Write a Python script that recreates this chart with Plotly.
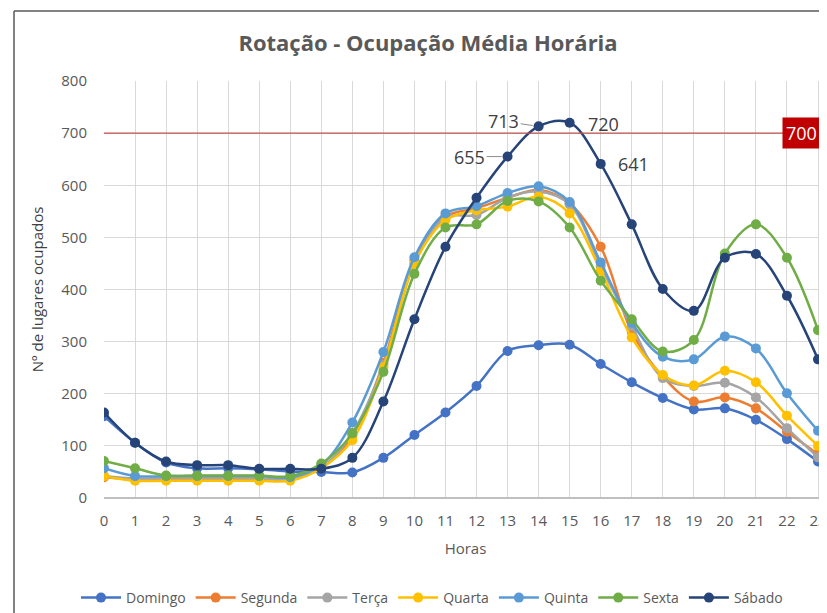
import plotly.graph_objects as go

hours = list(range(24))
series_names = ["Domingo", "Segunda", "Terça", "Quarta", "Quinta", "Sexta", "Sábado"]
domingo = [157, 106, 68, 57, 57, 55, 51, 50, 49, 77, 121, 164, 215, 282, 293, 294, 257, 222, 192, 170, 172, 150, 113, 70]
segunda = [40, 36, 37, 37, 37, 37, 36, 58, 120, 259, 456, 540, 556, 576, 591, 565, 482, 319, 233, 185, 193, 172, 127, 84]
terca = [42, 37, 38, 38, 38, 38, 37, 58, 125, 255, 450, 538, 543, 576, 588, 563, 445, 330, 230, 215, 221, 193, 134, 78]
quarta = [42, 33, 33, 33, 33, 33, 33, 57, 111, 251, 450, 533, 552, 559, 578, 546, 436, 308, 236, 216, 244, 222, 158, 100]
quinta = [57, 42, 42, 42, 42, 42, 40, 63, 145, 280, 462, 546, 560, 585, 598, 568, 452, 336, 271, 266, 310, 287, 201, 129]
sexta = [71, 57, 43, 43, 43, 43, 42, 66, 124, 242, 430, 519, 525, 570, 569, 519, 417, 343, 281, 303, 469, 525, 461, 322]
sabado = [164, 106, 70, 63, 63, 56, 56, 56, 77, 185, 343, 482, 576, 655, 713, 720, 641, 525, 401, 359, 461, 468, 388, 266]
capacity = 700
labelled_hours = [13, 14, 15, 16]

colors = ["#4472C4", "#ED7D31", "#A5A5A5", "#FFC000", "#5B9BD5", "#70AD47", "#264478"]
data = [domingo, segunda, terca, quarta, quinta, sexta, sabado]

FONT = "Open Sans"
fig = go.Figure()
for name, vals, c in zip(series_names, data, colors):
    fig.add_trace(go.Scatter(
        x=hours, y=vals, name=name, mode="lines+markers",
        line=dict(color=c, width=2.5, shape="spline", smoothing=1.0),
        marker=dict(color=c, size=10),
    ))

# page offset (body margin) of 8 px
OFF = 8
L = 104; W = 723; B = 498; H = 417   # plot area in screenshot pixels

# capacity line
fig.add_shape(type="line", xref="paper", yref="y", x0=0, x1=1, y0=capacity, y1=capacity,
              line=dict(color="#C0504D", width=1.2))
fig.add_annotation(xref="paper", yref="y", x=(782 - L) / W, y=capacity, xanchor="left",
                   text="700  ", showarrow=False, bgcolor="#C00000",
                   font=dict(family=FONT, size=18, color="white"), borderpad=3)

# data labels on Sábado
offsets = {13: (-38, 0, True), 14: (-35, -5, True), 15: (34, 1, False), 16: (33, 0, False)}
for h in labelled_hours:
    ax, ay, arrow = offsets[h]
    if arrow:
        fig.add_annotation(x=h, y=sabado[h], text=str(sabado[h]), showarrow=True,
                           ax=ax, ay=ay, arrowhead=0, arrowwidth=1, arrowcolor="#8c8c8c",
                           standoff=6, font=dict(family=FONT, size=18, color="#404040"))
    else:
        fig.add_annotation(x=h, y=sabado[h], text=str(sabado[h]), showarrow=False,
                           xshift=ax, yshift=-ay, font=dict(family=FONT, size=18, color="#404040"))

# outer frame (left and top edges)
fx = (14 - L) / W
fy = (B - 11) / H
fig.add_shape(type="line", xref="paper", yref="paper", x0=fx, x1=fx, y0=fy, y1=-0.3,
              line=dict(color="#595959", width=1.5))
fig.add_shape(type="line", xref="paper", yref="paper", x0=fx, x1=1.05, y0=fy, y1=fy,
              line=dict(color="#595959", width=1.5))

fig_w = 827 - OFF
fig_h = 613 - OFF
fig.update_layout(
    width=fig_w, height=fig_h,
    margin=dict(l=L - OFF, r=0, t=81 - OFF, b=fig_h - (B - OFF), autoexpand=False),
    paper_bgcolor="white", plot_bgcolor="white",
    font=dict(family=FONT, color="#595959"),
    title=dict(text="<b>Rotação - Ocupação Média Horária</b>", x=(428 - OFF) / fig_w, xanchor="center",
               y=1 - (43 - OFF) / fig_h, yanchor="middle", font=dict(family=FONT, size=22, color="#595959")),
    xaxis=dict(range=[0, 23.29], tickmode="array", tickvals=hours, ticktext=[str(h) for h in hours],
               showgrid=True, gridcolor="#D9D9D9", gridwidth=1, zeroline=False,
               showline=False, ticks="", tickfont=dict(size=15, color="#595959"), ticklabelstandoff=12,
               title=dict(text="Horas", font=dict(size=15, color="#595959"), standoff=14)),
    yaxis=dict(range=[0, 800], tickvals=[0, 100, 200, 300, 400, 500, 600, 700, 800],
               showgrid=True, gridcolor="#D9D9D9", gridwidth=1, zeroline=True,
               zerolinecolor="#BFBFBF", zerolinewidth=1.5, showline=False, ticks="",
               tickfont=dict(size=15, color="#595959"), ticklabelstandoff=16,
               title=dict(text="Nº de lugares ocupados", font=dict(size=15, color="#404040"), standoff=14)),
    legend=dict(orientation="h", x=(432 - L) / W, xanchor="center", y=(B - 598) / H, yanchor="middle",
                font=dict(size=14, color="#595959"), itemwidth=40, bgcolor="rgba(0,0,0,0)"),
    showlegend=True,
)

fig.write_html("out.html")
